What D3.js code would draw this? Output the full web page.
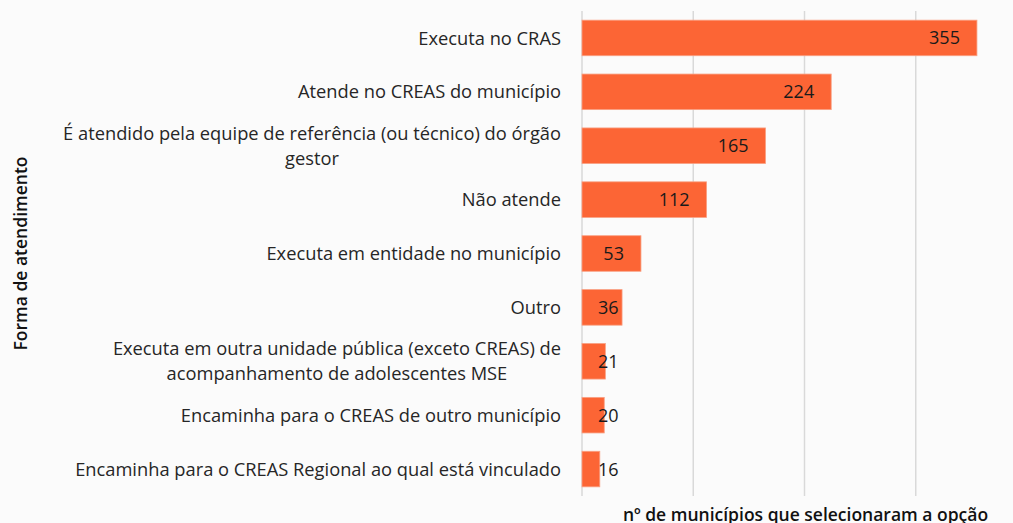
<!DOCTYPE html>
<html>
<head>
<meta charset="utf-8">
<script src="https://cdn.jsdelivr.net/npm/d3@7.9.0/dist/d3.min.js"></script>
<style>
  html, body { margin: 0; padding: 0; background: #fbfbfb; }
  svg { display: block; font-family: "Open Sans", sans-serif; }
</style>
</head>
<body>
<svg id="chart" width="1013" height="523"></svg>
<script>
// Data
const categories = [
  "Executa no CRAS",
  "Atende no CREAS do município",
  "É atendido pela equipe de referência (ou técnico) do órgão|gestor",
  "Não atende",
  "Executa em entidade no município",
  "Outro",
  "Executa em outra unidade pública (exceto CREAS) de|acompanhamento de adolescentes MSE",
  "Encaminha para o CREAS de outro município",
  "Encaminha para o CREAS Regional ao qual está vinculado"
];
const values = [355, 224, 165, 112, 53, 36, 21, 20, 16];
const xTicks = [0, 100, 200, 300, 400];

const yTitle = "Forma de atendimento";
const xTitle = "nº de municípios que selecionaram a opção";

const svg = d3.select('#chart');
const margin = { left: 582, top: 11, right: 1027, bottom: 496 };

const x = d3.scaleLinear().domain([0, 400]).range([margin.left, margin.right]);
const y = d3.scaleBand().domain(categories).range([margin.top, margin.bottom])
  .paddingInner(0.34).paddingOuter(0.17);

// gridlines
svg.append('g').selectAll('line').data(xTicks).join('line')
  .attr('x1', d => x(d)).attr('x2', d => x(d))
  .attr('y1', margin.top).attr('y2', margin.bottom)
  .attr('stroke', '#d9d9d9').attr('stroke-width', 1.5);

// bars
svg.append('g').selectAll('rect').data(values).join('rect')
  .attr('x', x(0))
  .attr('y', (d, i) => y(categories[i]))
  .attr('width', d => x(d) - x(0))
  .attr('height', y.bandwidth())
  .attr('fill', '#fc6535')
  .attr('stroke', '#f9a184').attr('stroke-width', 0.8);

// value labels
const labels = svg.append('g').selectAll('text').data(values).join('text')
  .attr('y', (d, i) => y(categories[i]) + y.bandwidth() / 2)
  .attr('dy', '0.36em')
  .attr('font-size', 18)
  .attr('fill', '#1a1a1a')
  .text(d => d);
labels.each(function (d) {
  const w = this.getComputedTextLength();
  const start = Math.max(x(d) - 17 - w, x(0) + 16);
  d3.select(this).attr('x', start);
});

// category labels: right aligned block, wrapped lines centred within it
const labelRight = 561;
const cat = svg.append('g').selectAll('text').data(categories).join('text')
  .attr('text-anchor', 'end')
  .attr('font-size', 18.3)
  .attr('fill', '#262626')
  .attr('y', d => y(d) + y.bandwidth() / 2);
cat.each(function (d) {
  const lines = d.split('|');
  const t = d3.select(this);
  const spans = lines.map((ln, j) => t.append('tspan')
    .attr('x', labelRight)
    .attr('dy', j === 0 ? `${0.36 - (lines.length - 1) * 0.685}em` : '1.37em')
    .text(ln));
  if (lines.length > 1) {
    const maxW = d3.max(spans, s => s.node().getComputedTextLength());
    t.attr('text-anchor', 'middle');
    spans.forEach(s => s.attr('x', labelRight - maxW / 2));
  }
});

// axis titles
svg.append('text')
  .attr('transform', `translate(27, ${(margin.top + margin.bottom) / 2}) rotate(-90)`)
  .attr('text-anchor', 'middle')
  .attr('font-size', 17.5).attr('font-weight', 600)
  .attr('fill', '#111')
  .text(yTitle);

svg.append('text')
  .attr('x', (margin.left + margin.right) / 2 + 1)
  .attr('y', 521)
  .attr('text-anchor', 'middle')
  .attr('font-size', 17.5).attr('font-weight', 600)
  .attr('fill', '#111')
  .text(xTitle);
</script>
</body>
</html>
